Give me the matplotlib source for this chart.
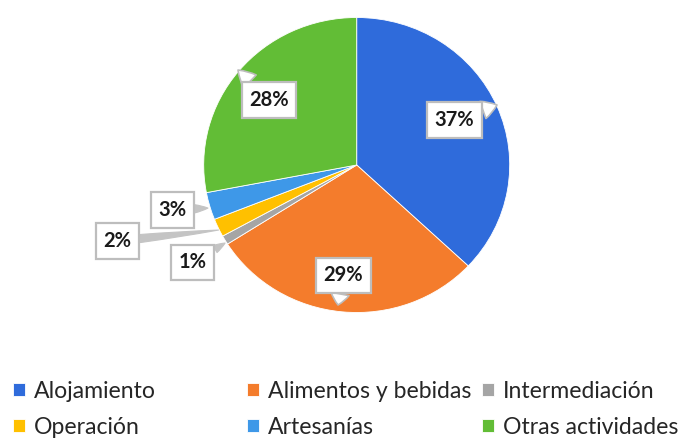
import matplotlib
matplotlib.use('Agg')
import matplotlib.pyplot as plt

# ── Datos ─────────────────────────────────────────────────────────────────────
categorias = ['Alojamiento', 'Alimentos y bebidas', 'Intermediación',
              'Operación', 'Artesanías', 'Otras actividades']
porcentajes = [37, 29, 1, 2, 3, 28]
colores = ['#2F6BDB', '#F47C2C', '#A5A5A5', '#FFC000', '#3E98E8', '#62BD36']

# posiciones de las etiquetas (centro de la caja) y punta del puntero, en unidades del radio
pos_etiqueta = [(0.64, 0.305), (-0.086, -0.749), (-1.073, -0.661),
                (-1.563, -0.515), (-1.204, -0.305), (-0.573, 0.441)]
pos_punta = [(0.917, 0.407), (-0.122, -0.949), (-0.86, -0.529),
             (-0.903, -0.441), (-0.972, -0.292), (-0.776, 0.644)]
etiqueta_fuera = [False, False, True, True, True, False]

# leyenda: x del cuadrado (px) y fila de cada entrada
leyenda_x = [13, 247, 482, 13, 247, 482]
leyenda_fila = [0, 0, 0, 1, 1, 1]
filas_y = [391, 427.5]

W, H = 683, 446
plt.rcParams['font.family'] = ['Lato', 'DejaVu Sans']

fig = plt.figure(figsize=(W / 100, H / 100), dpi=100)
fig.patch.set_facecolor('white')

# ejes de la torta: centro (356.7, 165) px, radios 153 x 147.5 px
cx, cy, rx, ry = 356.7, 165, 153, 147.5
ax = fig.add_axes([(cx - rx) / W, (H - cy - ry) / H, 2 * rx / W, 2 * ry / H])

wedges, _ = ax.pie(porcentajes, colors=colores, startangle=90, counterclock=False,
                   wedgeprops=dict(edgecolor='white', linewidth=0.6))
ax.set_aspect('auto')
ax.set_xlim(-1, 1)
ax.set_ylim(-1, 1)
ax.axis('off')

# ── Etiquetas tipo globo ──────────────────────────────────────────────────────
for i, p in enumerate(porcentajes):
    if etiqueta_fuera[i]:
        flecha = dict(arrowstyle='wedge,tail_width=0.4,shrink_factor=0.6',
                      fc='#c4c4c4', ec='#c4c4c4', lw=0.8, shrinkA=0, shrinkB=0)
    else:
        flecha = dict(arrowstyle='wedge,tail_width=0.9,shrink_factor=0.6',
                      fc='white', ec='#bdbdbd', lw=1.2, shrinkA=0, shrinkB=0)
    ax.annotate(f'{p}%', xy=pos_punta[i], xytext=pos_etiqueta[i],
                ha='center', va='center', fontsize=14.5, fontweight='bold',
                color='#1a1a1a', annotation_clip=False,
                bbox=dict(boxstyle='square,pad=0.38', fc='white', ec='#bdbdbd', lw=1.6),
                arrowprops=flecha, zorder=5)

# ── Leyenda manual por entrada para respetar las columnas del original ───────
for i in range(len(categorias)):
    x = leyenda_x[i] / W
    y = (H - filas_y[leyenda_fila[i]]) / H
    fig.legend([wedges[i]], [categorias[i]], loc='center left', bbox_to_anchor=(x, y),
               frameon=False, fontsize=16.6, handlelength=0.5, handleheight=0.5,
               handletextpad=0.4, borderpad=0, borderaxespad=0,
               labelcolor='#262626')

fig.savefig('out.png', dpi=100, facecolor='white')
